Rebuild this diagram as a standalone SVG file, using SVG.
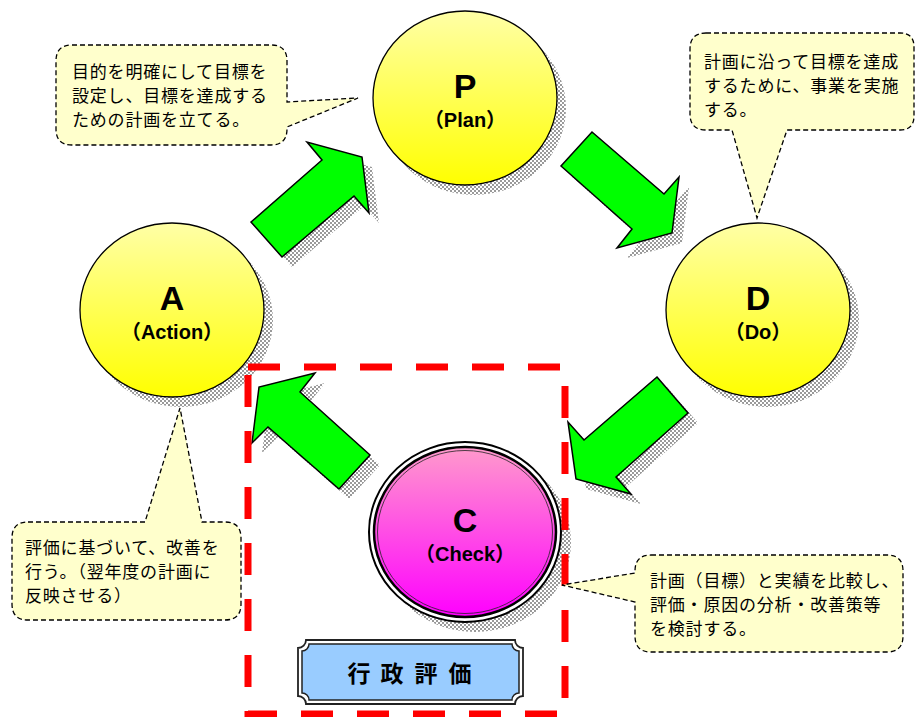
<svg xmlns="http://www.w3.org/2000/svg" width="917" height="717" viewBox="0 0 917 717">
<style>
.lbl{font-family:"Liberation Sans",Arial,"Noto Sans CJK JP",sans-serif;font-weight:bold;fill:#000;text-anchor:middle}
.big{font-size:34px}
.sub{font-size:20px}
.note{font-family:"Noto Sans CJK JP","Noto Sans CJK SC",sans-serif;font-size:17px;letter-spacing:0.8px;fill:#000}
.callout{fill:#FFFFCC;stroke:#000;stroke-width:1.3;stroke-dasharray:5 3}
.arrow{fill:#00FF00;stroke:#000;stroke-width:1.5;stroke-linejoin:miter}
.shadow{fill:url(#chk)}
.circ{fill:url(#yel);stroke:#000;stroke-width:1.3}
</style>
<defs>
<pattern id="chk" width="4" height="4" patternUnits="userSpaceOnUse">
<rect width="2" height="2" fill="#9a9a9a"/>
<rect x="2" y="2" width="2" height="2" fill="#9a9a9a"/>
</pattern>
<linearGradient id="yel" x1="0" y1="0" x2="0" y2="1">
<stop offset="0" stop-color="#FFFFA6"/>
<stop offset="1" stop-color="#FFFF00"/>
</linearGradient>
<linearGradient id="pink" x1="0" y1="0" x2="0" y2="1">
<stop offset="0" stop-color="#FF9ACC"/>
<stop offset="1" stop-color="#FF00FF"/>
</linearGradient>
</defs>
<rect width="917" height="717" fill="#fff"/>

<g id="shadows">
<ellipse class="shadow" cx="474" cy="108" rx="92" ry="87"/>
<ellipse class="shadow" cx="181" cy="320" rx="92" ry="87"/>
<ellipse class="shadow" cx="767" cy="320" rx="92" ry="87"/>
<ellipse class="shadow" cx="475" cy="542" rx="96" ry="90"/>
<polygon class="shadow" points="261,232 332,170 317,152 372,167 379,223 364,206 292,267"/>
<polygon class="shadow" points="602,142 674,204 689,187 682,243 627,258 642,239 571,176"/>
<polygon class="shadow" points="667,387 698,423 626,487 641,504 586,489 578,432 594,450"/>
<polygon class="shadow" points="325,383 310,402 380,465 349,499 278,437 262,453 269,397"/>
</g>

<g id="connectors">
<polygon class="arrow" points="251,222 322,160 307,142 362,157 369,213 354,196 282,257"/>
<polygon class="arrow" points="592,132 664,194 679,177 672,233 617,248 632,229 561,166"/>
<polygon class="arrow" points="657,377 688,413 616,477 631,494 576,479 568,422 584,440"/>
<polygon class="arrow" points="315,373 300,392 370,455 339,489 268,427 252,443 259,387"/>
</g>

<g id="node-P">
<ellipse class="circ" cx="465" cy="98" rx="92" ry="87"/>
<text class="lbl big" x="465" y="98">P</text>
<text class="lbl sub" x="465" y="127">（Plan）</text>
</g>

<g id="node-A">
<ellipse class="circ" cx="172" cy="310" rx="92" ry="87"/>
<text class="lbl big" x="172" y="310">A</text>
<text class="lbl sub" x="172" y="339">（Action）</text>
</g>

<g id="node-D">
<ellipse class="circ" cx="758" cy="310" rx="92" ry="87"/>
<text class="lbl big" x="758" y="310">D</text>
<text class="lbl sub" x="758" y="339">（Do）</text>
</g>

<g id="node-C">
<ellipse cx="465" cy="532" rx="96" ry="90" fill="#fff" stroke="#000" stroke-width="2"/>
<ellipse cx="465" cy="532" rx="91" ry="85" fill="url(#pink)" stroke="#000" stroke-width="2.5"/>
<ellipse cx="465" cy="532" rx="87.5" ry="81.5" fill="none" stroke="#222" stroke-width="0.8"/>
<text class="lbl big" x="465" y="532">C</text>
<text class="lbl sub" x="465" y="561">（Check）</text>
</g>

<g id="frame-gyosei">
<rect x="248" y="367" width="317" height="347" fill="none" stroke="#FF0000" stroke-width="7" stroke-dasharray="32 24"/>
</g>

<g id="note-P">
<path class="callout" d="M72,45 H271 Q287,45 287,61 V102 L358,98 L287,127 V129 Q287,145 271,145 H72 Q56,145 56,129 V61 Q56,45 72,45 Z"/>
<text class="note" x="72" y="78">目的を明確にして目標を</text>
<text class="note" x="72" y="102">設定し、目標を達成する</text>
<text class="note" x="72" y="126">ための計画を立てる。</text>
</g>

<g id="note-D">
<path class="callout" d="M706,33 H900 Q914,33 914,47 V116 Q914,130 900,130 H787 L757,218 L732,130 H706 Q690,130 690,114 V49 Q690,33 706,33 Z"/>
<text class="note" x="704" y="68">計画に沿って目標を達成</text>
<text class="note" x="704" y="92">するために、事業を実施</text>
<text class="note" x="704" y="116">する。</text>
</g>

<g id="note-A">
<path class="callout" d="M28,522 H145 L180,408 L202,522 H225 Q241,522 241,538 V604 Q241,620 225,620 H28 Q12,620 12,604 V538 Q12,522 28,522 Z"/>
<text class="note" x="25" y="554">評価に基づいて、改善を</text>
<text class="note" x="25" y="578">行う。（翌年度の計画に</text>
<text class="note" x="25" y="602">反映させる）</text>
</g>

<g id="note-C">
<path class="callout" d="M651,555 H887 Q903,555 903,571 V636 Q903,652 887,652 H651 Q635,652 635,636 V602 L562,585 L635,573 V571 Q635,555 651,555 Z"/>
<text class="note" x="650" y="587">計画（目標）と実績を比較し、</text>
<text class="note" x="650" y="611">評価・原因の分析・改善策等</text>
<text class="note" x="650" y="635">を検討する。</text>
</g>

<g id="node-gyosei">
<path d="M306,640 H515 A8,8 0 0 0 523,648 V696 A8,8 0 0 0 515,704 H306 A8,8 0 0 0 298,696 V648 A8,8 0 0 0 306,640 Z" fill="#fff" stroke="#222" stroke-width="1.8"/>
<path d="M309,644 H512 A7,7 0 0 0 519,651 V693 A7,7 0 0 0 512,700 H309 A7,7 0 0 0 302,693 V651 A7,7 0 0 0 309,644 Z" fill="#99CCFF" stroke="#222" stroke-width="1.5"/>
<text font-family="'Noto Sans CJK JP',sans-serif" font-size="23" font-weight="bold" text-anchor="middle" x="359 392 426 460" y="682">行政評価</text>
</g>
</svg>
